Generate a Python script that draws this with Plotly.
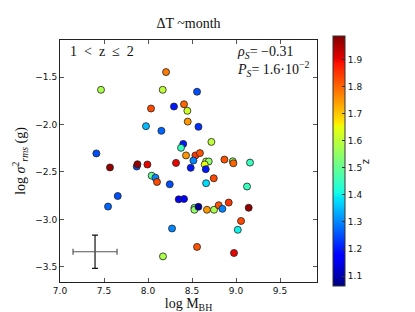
import plotly.graph_objects as go

log_mbh = [8.205, 7.466, 8.167, 8.557, 8.034, 8.295, 8.409, 8.447, 8.451, 7.977,
           8.152, 8.573, 8.720, 8.400, 8.375, 7.413, 8.432, 8.539, 8.590, 8.516,
           8.660, 8.690, 8.644, 8.656, 8.485, 8.318, 8.868, 8.963, 8.970, 9.159,
           7.568, 7.872, 7.880, 7.993, 8.042, 8.084, 8.102, 8.247, 8.747, 8.660,
           9.125, 7.656, 7.546, 8.349, 8.409, 8.527, 8.527, 8.573, 8.670, 8.750,
           8.803, 8.845, 8.917, 9.144, 9.057, 9.020, 8.273, 8.557, 8.170, 8.977]
log_sigma = [-1.448, -1.635, -1.635, -1.655, -1.832, -1.811, -1.787, -1.856, -1.970, -2.018,
             -2.067, -2.025, -2.184, -2.205, -2.246, -2.305, -2.326, -2.326, -2.302, -2.380,
             -2.390, -2.390, -2.422, -2.471, -2.457, -2.405, -2.370, -2.388, -2.409, -2.402,
             -2.453, -2.443, -2.419, -2.422, -2.540, -2.561, -2.606, -2.630, -2.567, -2.619,
             -2.654, -2.754, -2.865, -2.789, -2.785, -2.878, -2.899, -2.868, -2.899, -2.899,
             -2.851, -2.889, -2.823, -2.878, -3.017, -3.110, -3.096, -3.290, -3.390, -3.354]
redshift = [1.78, 1.58, 1.60, 1.25, 1.83, 1.20, 1.80, 1.62, 1.75, 1.35,
            1.27, 1.22, 1.60, 1.20, 1.45, 1.25, 1.75, 1.85, 1.82, 1.30,
            1.58, 1.55, 1.65, 1.20, 1.20, 1.90, 1.82, 1.55, 1.80, 1.45,
            1.97, 1.25, 1.97, 1.90, 1.50, 1.30, 1.83, 1.25, 1.83, 1.38,
            1.45, 1.25, 1.27, 1.15, 1.17, 1.50, 1.55, 1.08, 1.75, 1.58,
            1.82, 1.30, 1.85, 1.97, 1.83, 1.40, 1.30, 1.82, 1.58, 1.90]

err_point = [7.398, -3.341]
err_x = 0.25
err_y = 0.175

x_ticks = [7.0, 7.5, 8.0, 8.5, 9.0, 9.5]
y_ticks = [-3.5, -3.0, -2.5, -2.0, -1.5]
cb_ticks = [1.1, 1.2, 1.3, 1.4, 1.5, 1.6, 1.7, 1.8, 1.9]

jet = [[0.0, 'rgb(0,0,128)'], [0.11, 'rgb(0,0,255)'], [0.125, 'rgb(0,0,255)'],
       [0.34, 'rgb(0,219,255)'], [0.35, 'rgb(0,229,246)'], [0.375, 'rgb(20,255,226)'],
       [0.64, 'rgb(238,255,8)'], [0.65, 'rgb(255,236,0)'], [0.66, 'rgb(255,226,0)'],
       [0.89, 'rgb(255,18,0)'], [0.91, 'rgb(228,0,0)'], [1.0, 'rgb(128,0,0)']]

serif = "Liberation Serif"
sans = "DejaVu Sans"

fig = go.Figure()
fig.add_trace(go.Scatter(
    x=log_mbh, y=log_sigma, mode="markers",
    marker=dict(size=7, color=redshift, colorscale=jet, cmin=1.063, cmax=1.988,
                line=dict(color="#222", width=0.8),
                colorbar=dict(thickness=12, len=250, lenmode="pixels", x=1.062, xanchor="left",
                              xpad=0, y=0.5, yanchor="middle", ypad=0,
                              tickvals=cb_ticks, ticks="inside", ticklen=3, tickcolor="#333",
                              tickfont=dict(family=sans, size=9, color="#111"),
                              outlinecolor="#333", outlinewidth=1)),
    showlegend=False, hoverinfo="skip"))
fig.add_trace(go.Scatter(
    x=[err_point[0]], y=[err_point[1]], mode="markers",
    marker=dict(size=1, color="rgba(0,0,0,0)"),
    error_x=dict(type="constant", value=err_x, color="#555", thickness=1.2, width=3),
    error_y=dict(type="constant", value=err_y, color="#111", thickness=1.2, width=3),
    showlegend=False, hoverinfo="skip"))

axis_common = dict(showline=True, linecolor="#222", linewidth=1, mirror="ticks",
                   ticks="inside", ticklen=4, tickcolor="#555", showgrid=False, zeroline=False,
                   tickfont=dict(family=sans, size=9, color="#111"))
fig.update_xaxes(range=[7.0, 9.92], tickvals=x_ticks, tickformat=".1f",
                 title=dict(text="log M<sub>BH</sub>", font=dict(family=serif, size=14, color="#111"), standoff=2),
                 **axis_common)
fig.update_yaxes(range=[-3.66, -1.11], tickvals=y_ticks, tickformat=".1f",
                 title=dict(text="log <i>σ</i><sup>2</sup><sub><i>rms</i></sub> (g)", font=dict(family=serif, size=14, color="#111"), standoff=6),
                 **axis_common)

fig.update_layout(
    width=415, height=312,
    margin=dict(l=52, r=106, t=32, b=34),
    paper_bgcolor="white", plot_bgcolor="white",
    title=dict(text="ΔT ~month", x=0.435, xanchor="center", y=0.935, yanchor="bottom",
               font=dict(family=serif, size=14, color="#111")),
    annotations=[
        dict(text="1  <  z  ≤  2", xref="paper", yref="paper", x=0.03, y=0.99,
             xanchor="left", yanchor="top", showarrow=False,
             font=dict(family=serif, size=14, color="#111")),
        dict(text="<i>ρ</i><sub><i>S</i></sub>= −0.31", xref="paper", yref="paper", x=0.68, y=0.99,
             xanchor="left", yanchor="top", showarrow=False,
             font=dict(family=serif, size=14, color="#111")),
        dict(text="<i>P</i><sub><i>S</i></sub>= 1.6·10<sup>−2</sup>", xref="paper", yref="paper", x=0.68, y=0.93,
             xanchor="left", yanchor="top", showarrow=False,
             font=dict(family=serif, size=14, color="#111")),
        dict(text="z", xref="paper", yref="paper", x=1.195, y=0.5,
             xanchor="center", yanchor="middle", showarrow=False, textangle=90,
             font=dict(family=sans, size=10, color="#111")),
    ],
)

fig.write_html("out.html")
